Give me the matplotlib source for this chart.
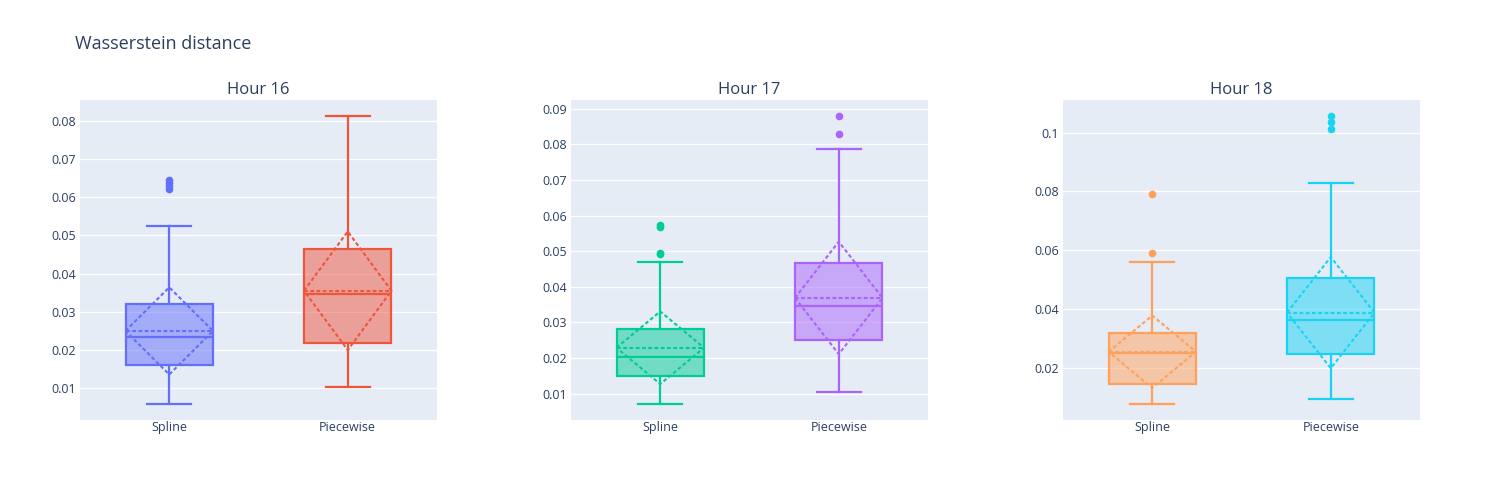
import matplotlib
matplotlib.use('Agg')
import matplotlib.pyplot as plt
from matplotlib.colors import to_rgba
from matplotlib.ticker import FuncFormatter

plt.rcParams['font.family'] = ['Open Sans', 'DejaVu Sans']

methods = ['Spline', 'Piecewise']
hours = ['Hour 16', 'Hour 17', 'Hour 18']

# per hour: [spline, piecewise]
q1 = [[0.0161, 0.0218], [0.0149, 0.0251], [0.0147, 0.0249]]
median = [[0.0235, 0.0346], [0.0203, 0.0346], [0.0250, 0.0363]]
q3 = [[0.0320, 0.0464], [0.0282, 0.0466], [0.0318, 0.0506]]
whis_lo = [[0.0060, 0.0104], [0.0072, 0.0106], [0.0079, 0.0096]]
whis_hi = [[0.0525, 0.0813], [0.0470, 0.0786], [0.0560, 0.0830]]
mean = [[0.0250, 0.0355], [0.0229, 0.0369], [0.0255, 0.0388]]
sd = [[0.0114, 0.0155], [0.0102, 0.0158], [0.0123, 0.0189]]
outliers = [
    [[0.0645, 0.0638, 0.0630, 0.0621], []],
    [[0.0575, 0.0568, 0.0496, 0.0491], [0.0880, 0.0830]],
    [[0.0791, 0.0592], [0.1058, 0.1035, 0.1012]],
]
ylims = [(0.0017, 0.0854), (0.0026, 0.0925), (0.0023, 0.1111)]
yticks = [[0.01, 0.02, 0.03, 0.04, 0.05, 0.06, 0.07, 0.08],
          [0.01, 0.02, 0.03, 0.04, 0.05, 0.06, 0.07, 0.08, 0.09],
          [0.02, 0.04, 0.06, 0.08, 0.1]]
colors = [['#636efa', '#EF553B'], ['#00cc96', '#ab63fa'], ['#FFA15A', '#19d3f3']]

txt = '#2a3f5f'
bw = 0.49
dash = (0, (1.8, 1.2))

fig = plt.figure(figsize=(15, 5), dpi=100)
fig.text(75/1500, 1-44/500, 'Wasserstein distance', fontsize=13, color=txt, va='center', ha='left')

lefts = [80/1500, 571/1500, 1063/1500]
for h in range(3):
    ax = fig.add_axes([lefts[h], 0.16, 0.238, 0.64])
    ax.set_facecolor('#E5ECF6')
    for s in ax.spines.values():
        s.set_visible(False)
    ax.set_axisbelow(True)
    ax.grid(True, axis='y', color='white', lw=1)

    for i in range(2):
        c = colors[h][i]
        st = [dict(med=median[h][i], q1=q1[h][i], q3=q3[h][i], whislo=whis_lo[h][i],
                   whishi=whis_hi[h][i], fliers=outliers[h][i], mean=mean[h][i])]
        ax.bxp(st, positions=[i], widths=bw, capwidths=bw/2, patch_artist=True,
               showmeans=True, meanline=True,
               boxprops=dict(facecolor=to_rgba(c, 0.5), edgecolor=c, lw=1.6),
               medianprops=dict(color=c, lw=1.6),
               whiskerprops=dict(color=c, lw=1.6),
               capprops=dict(color=c, lw=1.6),
               meanprops=dict(color=c, lw=1.5, linestyle=dash),
               flierprops=dict(marker='o', markerfacecolor=c, markeredgecolor=c, markersize=4.5))
        m = mean[h][i]
        d = sd[h][i]
        ax.plot([i - bw/2, i, i + bw/2, i, i - bw/2], [m, m + d, m, m - d, m],
                color=c, lw=1.5, linestyle=dash)

    ax.set_xlim(-0.5, 1.5)
    ax.set_ylim(*ylims[h])
    ax.set_yticks(yticks[h])
    ax.yaxis.set_major_formatter(FuncFormatter(lambda v, p: '%g' % round(v, 4)))
    ax.set_xticks([0, 1])
    ax.set_xticklabels(methods)
    ax.tick_params(length=0, labelsize=9, labelcolor=txt, pad=3)
    ax.tick_params(axis='x', pad=1)
    ax.set_title(hours[h], fontsize=12, color=txt, pad=4.5)

fig.savefig('out.png', dpi=100)
